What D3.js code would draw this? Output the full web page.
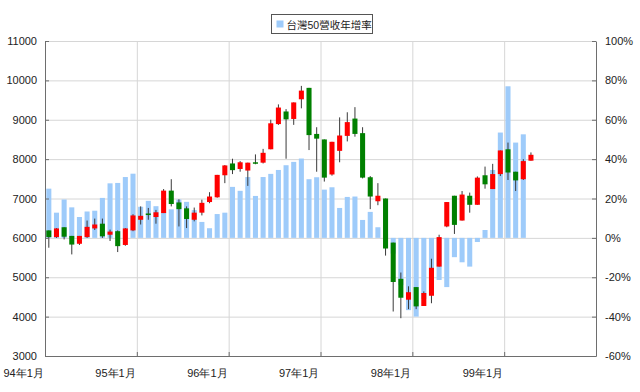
<!DOCTYPE html>
<html>
<head>
<meta charset="utf-8">
<script src="https://cdn.jsdelivr.net/npm/d3@7"></script>
<style>
    body { margin: 0; background: #fff; }
    svg { display: block; font-family: "Liberation Sans", "Noto Sans CJK TC", sans-serif; }
    .axis path, .axis line { stroke: #6e6e6e; }
    .axis text { font-size: 11px; fill: #222; }
    .grid line { stroke: #d6d6d6; }
    .grid path { display: none; }
</style>
</head>
<body>
<svg id="chart" width="640" height="392"></svg>
<script>
// 年份 (民國) for the category axis, 6 years of monthly data
const years = [94, 95, 96, 97, 98, 99];
const yearLabels = ['94年1月', '95年1月', '96年1月', '97年1月', '98年1月', '99年1月'];

// monthly K-bars, from 94年1月 to 99年4月
const open = [6190, 6020, 6270, 6050, 5850, 6020, 6240, 6360, 6080, 6170, 5820, 6190,
    6460, 6620, 6530, 6630, 7200, 6900, 6750, 6460, 6640, 6910, 7030, 7590,
    7890, 7750, 7710, 7920, 7910, 8250, 8890, 9210, 9020, 9520, 9810, 8640,
    8500, 7610, 8210, 8590, 9030, 8660, 7540, 6930, 7000, 5880, 4960, 4430,
    4750, 4270, 4530, 5270, 6290, 7070, 6440, 7070, 6840, 7590, 7240, 7620,
    8250, 7680, 7490, 7960];
const close = [6020, 6240, 6030, 5830, 6050, 6280, 6340, 6040, 6160, 5790, 6240, 6570,
    6560, 6580, 6650, 7200, 6860, 6730, 6480, 6640, 6890, 7050, 7600, 7840,
    7720, 7920, 7910, 7890, 8160, 8910, 9310, 9010, 9440, 9740, 8610, 8520,
    7530, 8440, 8600, 8940, 8640, 7530, 7050, 7070, 5730, 4880, 4480, 4620,
    4260, 4600, 5240, 6020, 6910, 6330, 7100, 6840, 7530, 7360, 7620, 8220,
    7660, 7460, 7950, 8110];
const high = [6190, 6250, 6270, 6050, 6050, 6440, 6490, 6490, 6210, 6190, 6250, 6600,
    6800, 6760, 6710, 7240, 7490, 6980, 6800, 6770, 6970, 7160, 7600, 7850,
    8010, 7950, 7910, 8120, 8260, 9000, 9390, 9270, 9440, 9860, 9810, 8810,
    8500, 8440, 9060, 9190, 9320, 8810, 7570, 7390, 7000, 5880, 5120, 4770,
    4750, 4640, 5470, 6080, 6910, 7070, 7190, 7150, 7560, 7810, 7880, 8220,
    8420, 7680, 8000, 8170];
const low = [5750, 6000, 5960, 5580, 5820, 6000, 6200, 6000, 5920, 5640, 5800, 6170,
    6340, 6460, 6360, 6630, 6800, 6290, 6250, 6420, 6570, 6880, 7020, 7390,
    7620, 7680, 7320, 7870, 7890, 8250, 8870, 8010, 8870, 9290, 8230, 7680,
    7430, 7580, 7920, 8450, 8570, 7510, 6730, 6830, 5550, 4130, 3960, 4190,
    4190, 4270, 4340, 5270, 6270, 6100, 6440, 6640, 6840, 7250, 7240, 7570,
    7470, 7190, 7470, 7960];

// 台灣50營收年增率 (%), from 94年1月 to 99年3月
const growth = [25, 12.8, 19.5, 15.5, 10.6, 13.4, 13.8, 20.3, 27.7, 27.9, 30.9, 32.6,
    15.8, 18.8, 16.1, 13, 14.5, 19.5, 18.3, 14.1, 8.1, 4.9, 12.1, 12.8,
    25.9, 23.9, 30.9, 21.3, 30.9, 32.5, 34.5, 36.9, 38.6, 40.3, 29.8, 30.8,
    24.5, 25.7, 15.2, 20.8, 21, 9.1, 13.2, 5.4, 2, -8, -24, -36.7,
    -40, -31, -22, -21.4, -25, -9.8, -12.4, -14.6, -2.1, 4, 34.5, 53.5,
    77, 48.4, 52.6];

const priceTicks = [3000, 4000, 5000, 6000, 7000, 8000, 9000, 10000, 11000];
const growthTicks = [-60, -40, -20, 0, 20, 40, 60, 80, 100];

const svg = d3.select('#chart');

// geometry, margin pattern
const width = +svg.attr('width');
const height = +svg.attr('height');
const margin = { top: 41, bottom: 36, left: 45, right: 44 };
const innerWidth = width - margin.left - margin.right;
const innerHeight = height - margin.top - margin.bottom;
const g = svg.append('g')
        .attr('transform', `translate(${margin.left}, ${margin.top})`);

// one band per month
const months = [];
years.forEach(y => d3.range(1, 13).forEach(m => months.push(`${y}/${m}`)));

// scales
const xScale = d3.scaleBand()
        .domain(months)
        .range([0, innerWidth])
        .paddingInner(0.34)
        .paddingOuter(0.17);
const xYear = d3.scaleLinear()
        .domain([0, months.length])
        .range([0, innerWidth]);
const yScale = d3.scaleLinear()
        .domain([3000, 11000])
        .range([innerHeight, 0]);
const y2Scale = d3.scaleLinear()
        .domain([-60, 100])
        .range([innerHeight, 0]);

// grid lines
g.append('g')
        .attr('class', 'grid')
        .call(d3.axisLeft(yScale).tickValues(priceTicks.slice(1)).tickSize(-innerWidth).tickFormat(''));
g.append('g')
        .attr('class', 'grid')
        .attr('transform', `translate(0, ${innerHeight})`)
        .call(d3.axisBottom(xYear).tickValues([12, 24, 36, 48, 60]).tickSize(-innerHeight).tickFormat(''));

// revenue growth bars
g.selectAll('rect.growth')
        .data(growth)
        .enter()
        .append('rect')
        .attr('class', 'growth')
        .attr('fill', '#9ecbfa')
        .attr('x', (d, i) => xScale(months[i]))
        .attr('width', xScale.bandwidth())
        .attr('y', d => y2Scale(Math.max(0, d)))
        .attr('height', d => Math.abs(y2Scale(d) - y2Scale(0)));

// candles: wick then body, red when the month closes higher
const candles = g.selectAll('g.candle')
        .data(open.map((o, i) => ({ month: months[i], o, c: close[i], h: high[i], l: low[i] })))
        .enter()
        .append('g')
        .attr('class', 'candle');
candles.append('line')
        .attr('x1', d => xScale(d.month) + xScale.bandwidth() / 2)
        .attr('x2', d => xScale(d.month) + xScale.bandwidth() / 2)
        .attr('y1', d => yScale(d.h))
        .attr('y2', d => yScale(d.l))
        .attr('stroke', '#3a3a3a')
        .attr('stroke-width', 1);
candles.append('rect')
        .attr('x', d => xScale(d.month))
        .attr('width', xScale.bandwidth())
        .attr('y', d => yScale(Math.max(d.o, d.c)))
        .attr('height', d => Math.max(1.5, Math.abs(yScale(d.o) - yScale(d.c))))
        .attr('fill', d => d.c >= d.o ? '#ff0000' : '#008000');

// axes, ticks pointing inward
const yAxisLeft = d3.axisLeft(yScale)
        .tickValues(priceTicks)
        .tickFormat(d3.format('d'))
        .tickSizeInner(-4)
        .tickSizeOuter(0)
        .tickPadding(8);
const yAxisRight = d3.axisRight(y2Scale)
        .tickValues(growthTicks)
        .tickFormat(d => d + '%')
        .tickSizeInner(-4)
        .tickSizeOuter(0)
        .tickPadding(9);
const xAxisBottom = d3.axisBottom(xYear)
        .tickValues([0, 12, 24, 36, 48, 60])
        .tickFormat((d, i) => yearLabels[i])
        .tickSizeInner(-4)
        .tickSizeOuter(0)
        .tickPadding(13);

g.append('g')
        .attr('class', 'axis')
        .call(yAxisLeft);
g.append('g')
        .attr('class', 'axis')
        .attr('transform', `translate(${innerWidth}, 0)`)
        .call(yAxisRight)
        .selectAll('text')
        .attr('text-anchor', 'start');
// labels sit to the left of their tick, as in the original
const xAxisG = g.append('g')
        .attr('class', 'axis')
        .attr('transform', `translate(0, ${innerHeight})`)
        .call(xAxisBottom);
xAxisG.selectAll('text')
        .attr('text-anchor', 'start')
        .attr('font-size', '10.5px')
        .attr('dx', -42);

// legend
const legend = svg.append('g')
        .attr('transform', 'translate(271.5, 14.5)');
legend.append('rect')
        .attr('width', 101)
        .attr('height', 19)
        .attr('fill', '#fff')
        .attr('stroke', '#555');
legend.append('rect')
        .attr('x', 5)
        .attr('y', 6)
        .attr('width', 7)
        .attr('height', 7)
        .attr('fill', '#9ecbfa');
legend.append('text')
        .attr('x', 15)
        .attr('y', 14)
        .attr('font-size', '10.5px')
        .attr('fill', '#222')
        .text('台灣50營收年增率');
</script>
</body>
</html>
